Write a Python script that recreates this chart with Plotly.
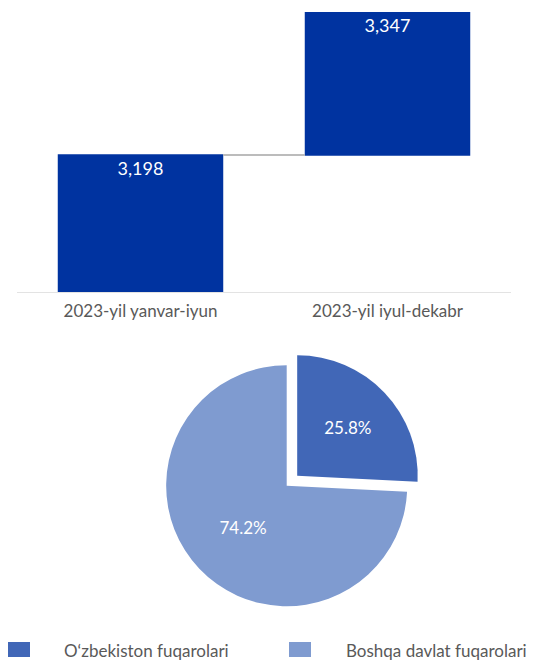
import plotly.graph_objects as go

# Data
periods = ["2023-yil yanvar-iyun", "2023-yil iyul-dekabr"]
period_values = [3198, 3347]
pie_labels = ["O\u2018zbekiston fuqarolari", "Boshqa davlat fuqarolari"]
pie_values = [25.8, 74.2]
pie_colors = ["#4167B7", "#7F9BD0"]

W, H = 545, 662
FONT = "Lato"
GREY = "#595959"

fig = go.Figure()

fig.add_trace(go.Waterfall(
    x=periods,
    measure=["absolute", "relative"],
    y=[period_values[0], period_values[1] - period_values[0]],
    text=[f"{v:,}" for v in period_values],
    textinfo="text",
    textposition="inside",
    insidetextanchor="end",
    textfont=dict(family=FONT, size=18, color="white"),
    increasing=dict(marker=dict(color="#0033A0")),
    decreasing=dict(marker=dict(color="#0033A0")),
    totals=dict(marker=dict(color="#0033A0")),
    connector=dict(line=dict(color="#A6A6A6", width=1.5)),
    showlegend=False,
    hoverinfo="skip",
))

fig.add_trace(go.Pie(
    labels=pie_labels,
    values=pie_values,
    sort=False,
    direction="clockwise",
    rotation=0,
    pull=[0.12, 0],
    marker=dict(colors=pie_colors, line=dict(width=0)),
    texttemplate="%{value:.1f}%",
    textposition="inside",
    insidetextorientation="horizontal",
    textfont=dict(family=FONT, size=17, color="white"),
    domain=dict(x=[151.7 / W, 421.7 / W], y=[1 - 620.7 / H, 1 - 350.7 / H]),
    showlegend=False,
    hoverinfo="skip",
))

# Custom legend (square swatch + label), matching the reference spacing
legend_sw_x = [8, 289]
legend_txt_x = [62, 344]
shapes = []
annotations = []
for i, lab in enumerate(pie_labels):
    x0 = legend_sw_x[i]
    shapes.append(dict(
        type="rect", xref="paper", yref="paper",
        x0=x0 / W, x1=(x0 + 22) / W,
        y0=1 - 657 / H, y1=1 - 642 / H,
        fillcolor=pie_colors[i], line=dict(width=0),
    ))
    annotations.append(dict(
        text=lab, xref="paper", yref="paper",
        x=legend_txt_x[i] / W, y=1 - 650 / H,
        xanchor="left", yanchor="middle", showarrow=False,
        font=dict(family=FONT, size=17, color=GREY),
    ))

fig.update_layout(
    width=W, height=H,
    margin=dict(l=0, r=0, t=0, b=0),
    paper_bgcolor="white",
    plot_bgcolor="white",
    waterfallgap=0.33,
    showlegend=False,
    font=dict(family=FONT, color=GREY),
    shapes=shapes,
    annotations=annotations,
    xaxis=dict(
        domain=[17 / W, 511 / W],
        showline=True, linecolor="#E3E3E3", linewidth=1,
        showgrid=False, ticks="",
        ticklabelstandoff=4,
        tickfont=dict(family=FONT, size=17, color=GREY),
    ),
    yaxis=dict(
        domain=[1 - 292 / H, 1 - 12 / H],
        range=[3055, 3347],
        visible=False,
    ),
)

fig.write_html(
    "out.html",
    config={"displayModeBar": False},
    post_script="document.body.style.margin='0px';",
)
